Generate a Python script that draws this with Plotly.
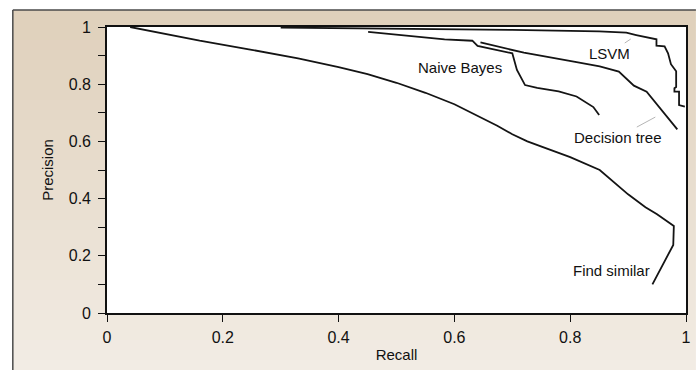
import plotly.graph_objects as go

# ---- data ----
find_similar_x = [0.04, 0.10, 0.16, 0.245, 0.33, 0.40, 0.45, 0.50, 0.55, 0.60, 0.64, 0.674, 0.70, 0.726, 0.76, 0.80, 0.851, 0.875, 0.90, 0.93, 0.95, 0.979, 0.978, 0.942]
find_similar_y = [1.0, 0.975, 0.952, 0.922, 0.89, 0.86, 0.835, 0.805, 0.77, 0.73, 0.69, 0.655, 0.625, 0.60, 0.575, 0.545, 0.50, 0.46, 0.415, 0.37, 0.345, 0.304, 0.238, 0.10]

naive_bayes_x = [0.451, 0.52, 0.583, 0.631, 0.640, 0.70, 0.708, 0.722, 0.743, 0.78, 0.811, 0.84, 0.85]
naive_bayes_y = [0.983, 0.97, 0.957, 0.952, 0.934, 0.908, 0.85, 0.797, 0.787, 0.775, 0.757, 0.72, 0.692]

decision_tree_x = [0.645, 0.72, 0.811, 0.851, 0.884, 0.91, 0.932, 0.957, 0.985]
decision_tree_y = [0.946, 0.91, 0.877, 0.862, 0.844, 0.795, 0.774, 0.713, 0.642]

lsvm_x = [0.30, 0.50, 0.70, 0.85, 0.897, 0.914, 0.949, 0.949, 0.963, 0.969, 0.974, 0.983, 0.983, 0.980, 0.980, 0.988, 0.988, 0.998]
lsvm_y = [0.998, 0.995, 0.99, 0.985, 0.98, 0.972, 0.957, 0.935, 0.932, 0.908, 0.87, 0.845, 0.79, 0.786, 0.774, 0.774, 0.727, 0.722]

x_tick_vals = [0, 0.2, 0.4, 0.6, 0.8, 1]
x_tick_text = ["0", "0.2", "0.4", "0.6", "0.8", "1"]
y_tick_vals = [0, 0.1, 0.2, 0.3, 0.4, 0.5, 0.6, 0.7, 0.8, 0.9, 1]
y_tick_text = ["0", "", "0.2", "", "0.4", "", "0.6", "", "0.8", "", "1"]

labels = ["LSVM", "Naive Bayes", "Decision tree", "Find similar"]

# ---- figure ----
W, H = 699, 370
L, R, T, B = 107, 8, 27, 57
pw, ph = W - L - R, H - T - B

def px2paper_x(px):
    return (px - L) / pw

def px2paper_y(py):
    return (H - B - py) / ph

FONT = "Liberation Sans, Arial, sans-serif"
LINE = "#141414"
TXT = "#111111"

fig = go.Figure()
for xs, ys in [(find_similar_x, find_similar_y), (naive_bayes_x, naive_bayes_y),
               (decision_tree_x, decision_tree_y), (lsvm_x, lsvm_y)]:
    fig.add_trace(go.Scatter(x=xs, y=ys, mode="lines",
                             line=dict(color=LINE, width=1.8),
                             showlegend=False, hoverinfo="skip", cliponaxis=False))

shapes = []
# background gradient (beige), drawn as thin bands
n = 36
top_px, bot_px = 10, H
c0 = (223, 208, 187)
c1 = (242, 236, 228)
for i in range(n):
    y0 = top_px + (bot_px - top_px) * i / n
    y1 = top_px + (bot_px - top_px) * (i + 1) / n + 0.5
    t = i / (n - 1)
    c = tuple(round(c0[k] + (c1[k] - c0[k]) * t) for k in range(3))
    shapes.append(dict(type="rect", xref="paper", yref="paper", layer="below",
                       x0=px2paper_x(12), x1=px2paper_x(W + 2),
                       y0=px2paper_y(y1), y1=px2paper_y(y0),
                       fillcolor="rgb(%d,%d,%d)" % c, line=dict(width=0)))
# white plot area
shapes.append(dict(type="rect", xref="paper", yref="paper", layer="below",
                   x0=0, x1=1, y0=0, y1=1, fillcolor="white", line=dict(width=0)))
# outer frame lines (left and top)
shapes.append(dict(type="line", xref="paper", yref="paper",
                   x0=px2paper_x(12), x1=px2paper_x(12), y0=px2paper_y(10), y1=px2paper_y(H + 2),
                   line=dict(color="#4a4a4a", width=1.5)))
shapes.append(dict(type="line", xref="paper", yref="paper",
                   x0=px2paper_x(12), x1=px2paper_x(W + 2), y0=px2paper_y(10), y1=px2paper_y(10),
                   line=dict(color="#4a4a4a", width=1.5)))

annotations = [
    dict(x=0.9046, y=0.958, text=labels[0], ax=-21, ay=14, showarrow=True,
         arrowhead=0, arrowwidth=1, arrowcolor="#b5b5b5"),
    dict(x=0.61, y=0.86, text=labels[1], showarrow=False),
    dict(x=0.947, y=0.685, text=labels[2], ax=-37, ay=20, showarrow=True,
         arrowhead=0, arrowwidth=1, arrowcolor="#b5b5b5"),
    dict(x=0.871, y=0.150, text=labels[3], showarrow=False),
]
for a in annotations:
    a.update(xref="x", yref="y", font=dict(family=FONT, size=15, color=TXT))

axis_common = dict(showgrid=False, zeroline=False, showline=True, mirror=True,
                   linecolor="#111", linewidth=1.6, ticks="outside", ticklen=7,
                   tickwidth=1.4, tickcolor="#111",
                   tickfont=dict(family=FONT, size=16, color=TXT))

fig.update_layout(
    width=W, height=H,
    margin=dict(l=L, r=R, t=T, b=B, pad=0),
    paper_bgcolor="white", plot_bgcolor="white",
    xaxis=dict(range=[0, 1], tickvals=x_tick_vals, ticktext=x_tick_text,
               ticklabelstandoff=2,
               title=dict(text="Recall", font=dict(family=FONT, size=15, color=TXT), standoff=4),
               **axis_common),
    yaxis=dict(range=[0, 1], tickvals=y_tick_vals, ticktext=y_tick_text,
               ticklabelstandoff=4,
               title=dict(text="Precision", font=dict(family=FONT, size=15, color=TXT), standoff=12),
               **axis_common),
    shapes=shapes,
    annotations=annotations,
)

fig.write_html("out.html", config={"displayModeBar": False},
               post_script="document.body.style.margin='0px';document.body.style.overflow='hidden';")
